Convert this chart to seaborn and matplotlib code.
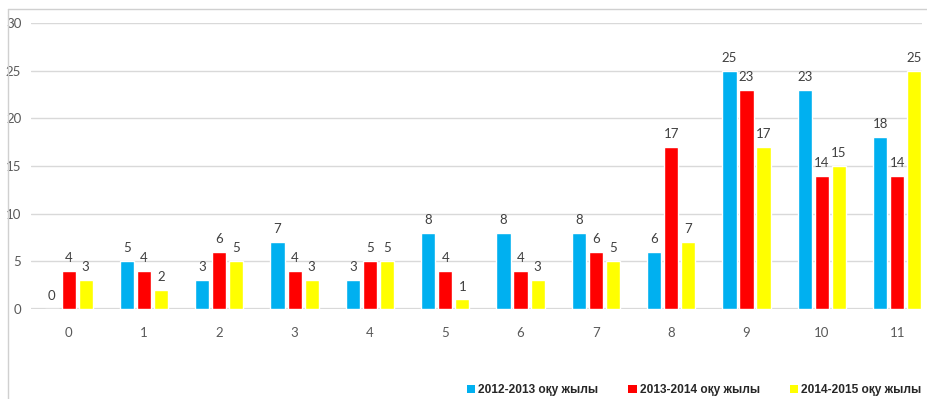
import matplotlib
matplotlib.use("Agg")
import matplotlib.pyplot as plt
from matplotlib.lines import Line2D
from matplotlib.patches import Patch
import seaborn as sns
import pandas as pd

categories = ["0", "1", "2", "3", "4", "5", "6", "7", "8", "9", "10", "11"]
series_names = ["2012-2013 оқу жылы", "2013-2014 оқу жылы", "2014-2015 оқу жылы"]
s2012 = [0, 5, 3, 7, 3, 8, 8, 8, 6, 25, 23, 18]
s2013 = [4, 4, 6, 4, 5, 4, 4, 6, 17, 23, 14, 14]
s2014 = [3, 2, 5, 3, 5, 1, 3, 5, 7, 17, 15, 25]
colors = ["#00B0F0", "#FF0000", "#FFFF00"]
yticks = [0, 5, 10, 15, 20, 25, 30]

rows = []
for name, vals in zip(series_names, [s2012, s2013, s2014]):
    for c, v in zip(categories, vals):
        rows.append({"cat": c, "val": v, "series": name})
df = pd.DataFrame(rows)

sns.set_style("white")
plt.rcParams["font.family"] = ["Lato", "DejaVu Sans"]

W, H = 927, 399
fig = plt.figure(figsize=(W / 100, H / 100), dpi=100)
ax = fig.add_axes([31 / W, 1 - 309 / H, (922 - 31) / W, (309 - 23) / H])

sns.barplot(data=df, x="cat", y="val", hue="series", order=categories,
            hue_order=series_names, palette=colors, width=0.68, gap=0.17,
            ax=ax, legend=False, saturation=1, err_kws={"linewidth": 0})

for cont in ax.containers:
    ax.bar_label(cont, padding=5, fontsize=9.5, color="#404040")

ax.set_ylim(0, 30)
ax.set_xlim(-0.5, 11.33)
ax.set_yticks(yticks)
ax.set_yticklabels([str(t) for t in yticks])
ax.set_xlabel("")
ax.set_ylabel("")
for s in ax.spines.values():
    s.set_visible(False)
ax.set_axisbelow(True)
ax.yaxis.grid(True, color="#D9D9D9", linewidth=1)
ax.axhline(0, color="#D9D9D9", linewidth=1.6, zorder=0.5)
ax.tick_params(axis="y", length=0, pad=7, labelsize=9.5, labelcolor="#595959")
ax.tick_params(axis="x", length=0, pad=13, labelsize=9.5, labelcolor="#595959")

# chart-area border (left and top)
fig.add_artist(Line2D([8 / W, 8 / W], [0, 1 - 9 / H], transform=fig.transFigure,
                      color="#D0D0D0", linewidth=1))
fig.add_artist(Line2D([8 / W, 1], [1 - 9 / H, 1 - 9 / H], transform=fig.transFigure,
                      color="#D0D0D0", linewidth=1))

handles = [Patch(facecolor=c, edgecolor="none") for c in colors]
fig.legend(handles, series_names, loc="center", bbox_to_anchor=(694 / W, 1 - 390 / H),
           ncol=3, frameon=False, handlelength=0.7, handleheight=0.7,
           handletextpad=0.25, columnspacing=2.5,
           prop={"family": "Liberation Sans", "weight": "bold", "size": 8.6})

fig.savefig("out.png", dpi=100)
